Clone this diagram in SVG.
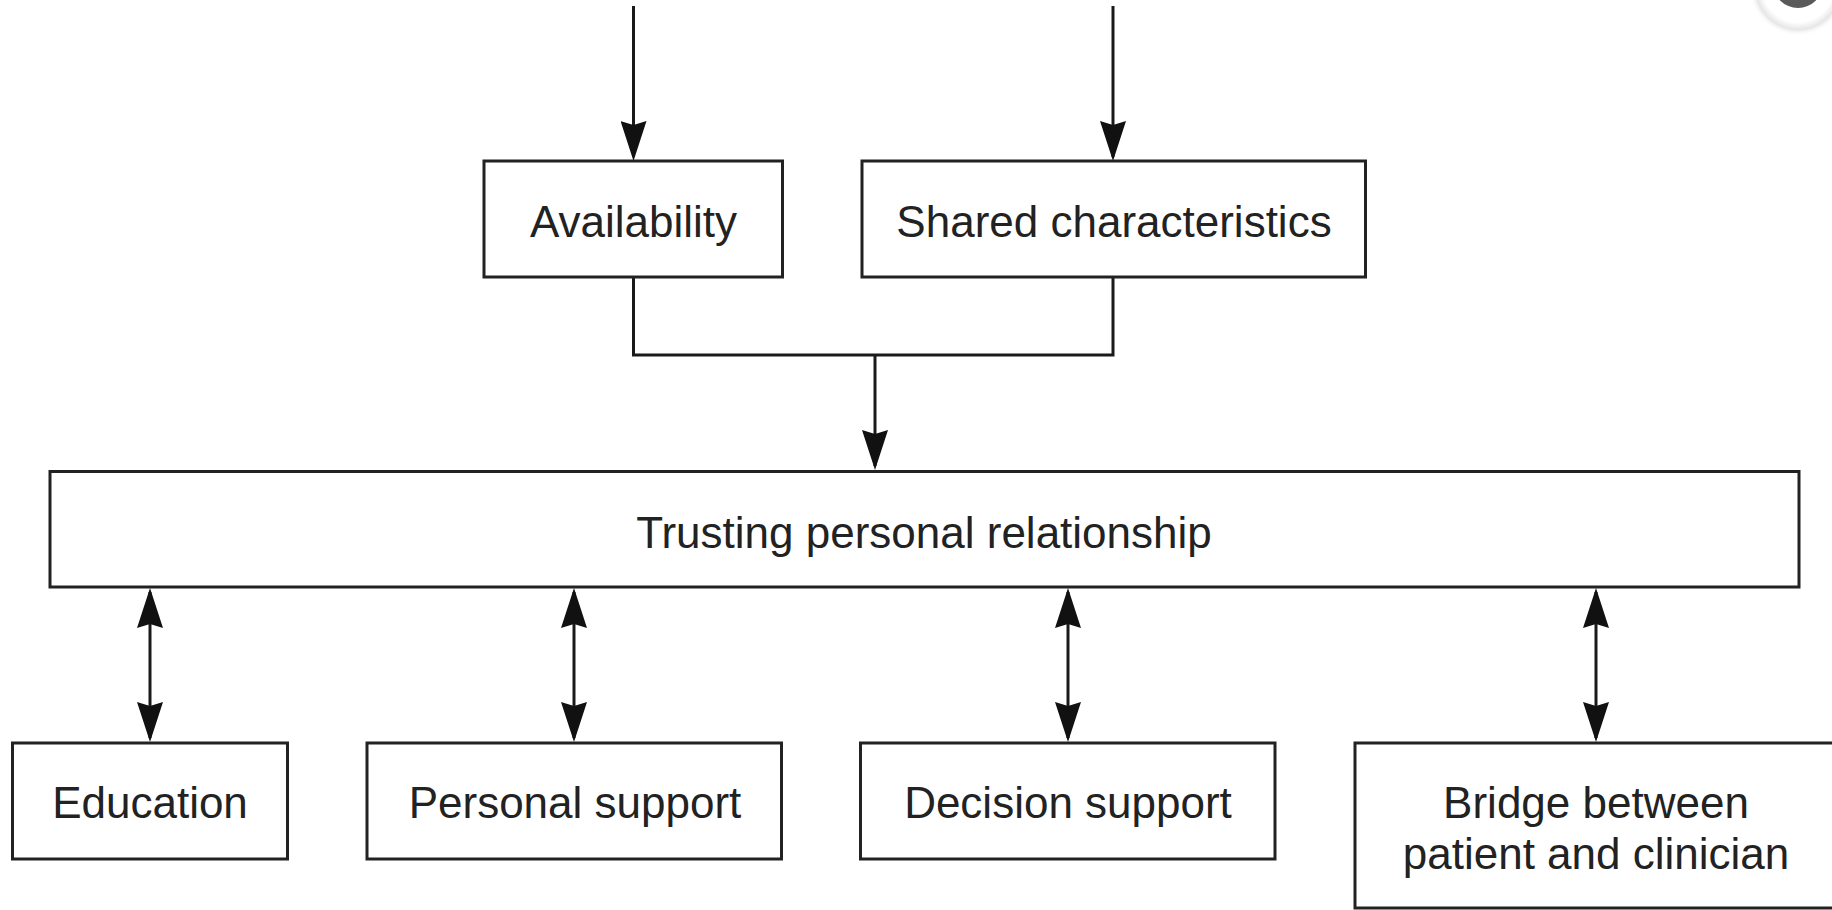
<svg xmlns="http://www.w3.org/2000/svg" width="1832" height="910" viewBox="0 0 1832 910">
  <defs>
    <style>
      .box { fill: #ffffff; stroke: #222222; stroke-width: 3; }
      .lbl { font-family: "Liberation Sans", Arial, sans-serif; font-size: 44px; fill: #222222; text-anchor: middle; }
      .conn { fill: none; stroke: #1a1a1a; stroke-width: 3; }
      .arr { marker-end: url(#head); }
      .dbl { marker-start: url(#head); marker-end: url(#head); }
    </style>
    <marker id="head" viewBox="0 0 40 26" refX="36" refY="13" markerWidth="40" markerHeight="26" markerUnits="userSpaceOnUse" orient="auto-start-reverse">
      <path d="M0,0 L40,13 L0,26 L4,13 Z" fill="#111111"/>
    </marker>
    <radialGradient id="halo" cx="0.5" cy="0.5" r="0.5">
      <stop offset="0" stop-color="#ffffff"/>
      <stop offset="0.72" stop-color="#ffffff"/>
      <stop offset="0.87" stop-color="#e6e6e6"/>
      <stop offset="1" stop-color="#ffffff" stop-opacity="0"/>
    </radialGradient>
  </defs>
  <rect x="0" y="0" width="1832" height="910" fill="#ffffff"/>

  <g id="ui-button">
    <circle cx="1798" cy="-13" r="49" fill="url(#halo)"/>
    <circle cx="1798" cy="-17" r="25" fill="#5a5a5a"/>
  </g>

  <g id="connectors">
    <line class="conn arr" x1="633.5" y1="6" x2="633.5" y2="157"/>
    <line class="conn arr" x1="1113" y1="6" x2="1113" y2="157"/>
    <polyline class="conn" points="633.5,277 633.5,355 1113,355 1113,277"/>
    <line class="conn arr" x1="875" y1="355" x2="875" y2="466"/>
    <line class="conn dbl" x1="150" y1="592" x2="150" y2="738"/>
    <line class="conn dbl" x1="574" y1="592" x2="574" y2="738"/>
    <line class="conn dbl" x1="1068" y1="592" x2="1068" y2="738"/>
    <line class="conn dbl" x1="1596" y1="592" x2="1596" y2="738"/>
  </g>

  <g id="availability">
    <rect class="box" x="484" y="161" width="298.5" height="116"/>
    <text class="lbl" x="633.5" y="237">Availability</text>
  </g>
  <g id="shared-characteristics">
    <rect class="box" x="862" y="161" width="503.5" height="116"/>
    <text class="lbl" x="1114" y="237">Shared characteristics</text>
  </g>
  <g id="trusting-relationship">
    <rect class="box" x="50" y="471.5" width="1749" height="115.5"/>
    <text class="lbl" x="924" y="548">Trusting personal relationship</text>
  </g>
  <g id="education">
    <rect class="box" x="12.5" y="743" width="275" height="116"/>
    <text class="lbl" x="150" y="818">Education</text>
  </g>
  <g id="personal-support">
    <rect class="box" x="367" y="743" width="414.5" height="116"/>
    <text class="lbl" x="575" y="818">Personal support</text>
  </g>
  <g id="decision-support">
    <rect class="box" x="860.5" y="743" width="414.5" height="116"/>
    <text class="lbl" x="1068" y="818">Decision support</text>
  </g>
  <g id="bridge">
    <rect class="box" x="1355" y="743" width="485" height="165"/>
    <text class="lbl" x="1596" y="818">Bridge between</text>
    <text class="lbl" x="1596" y="869">patient and clinician</text>
  </g>
</svg>
